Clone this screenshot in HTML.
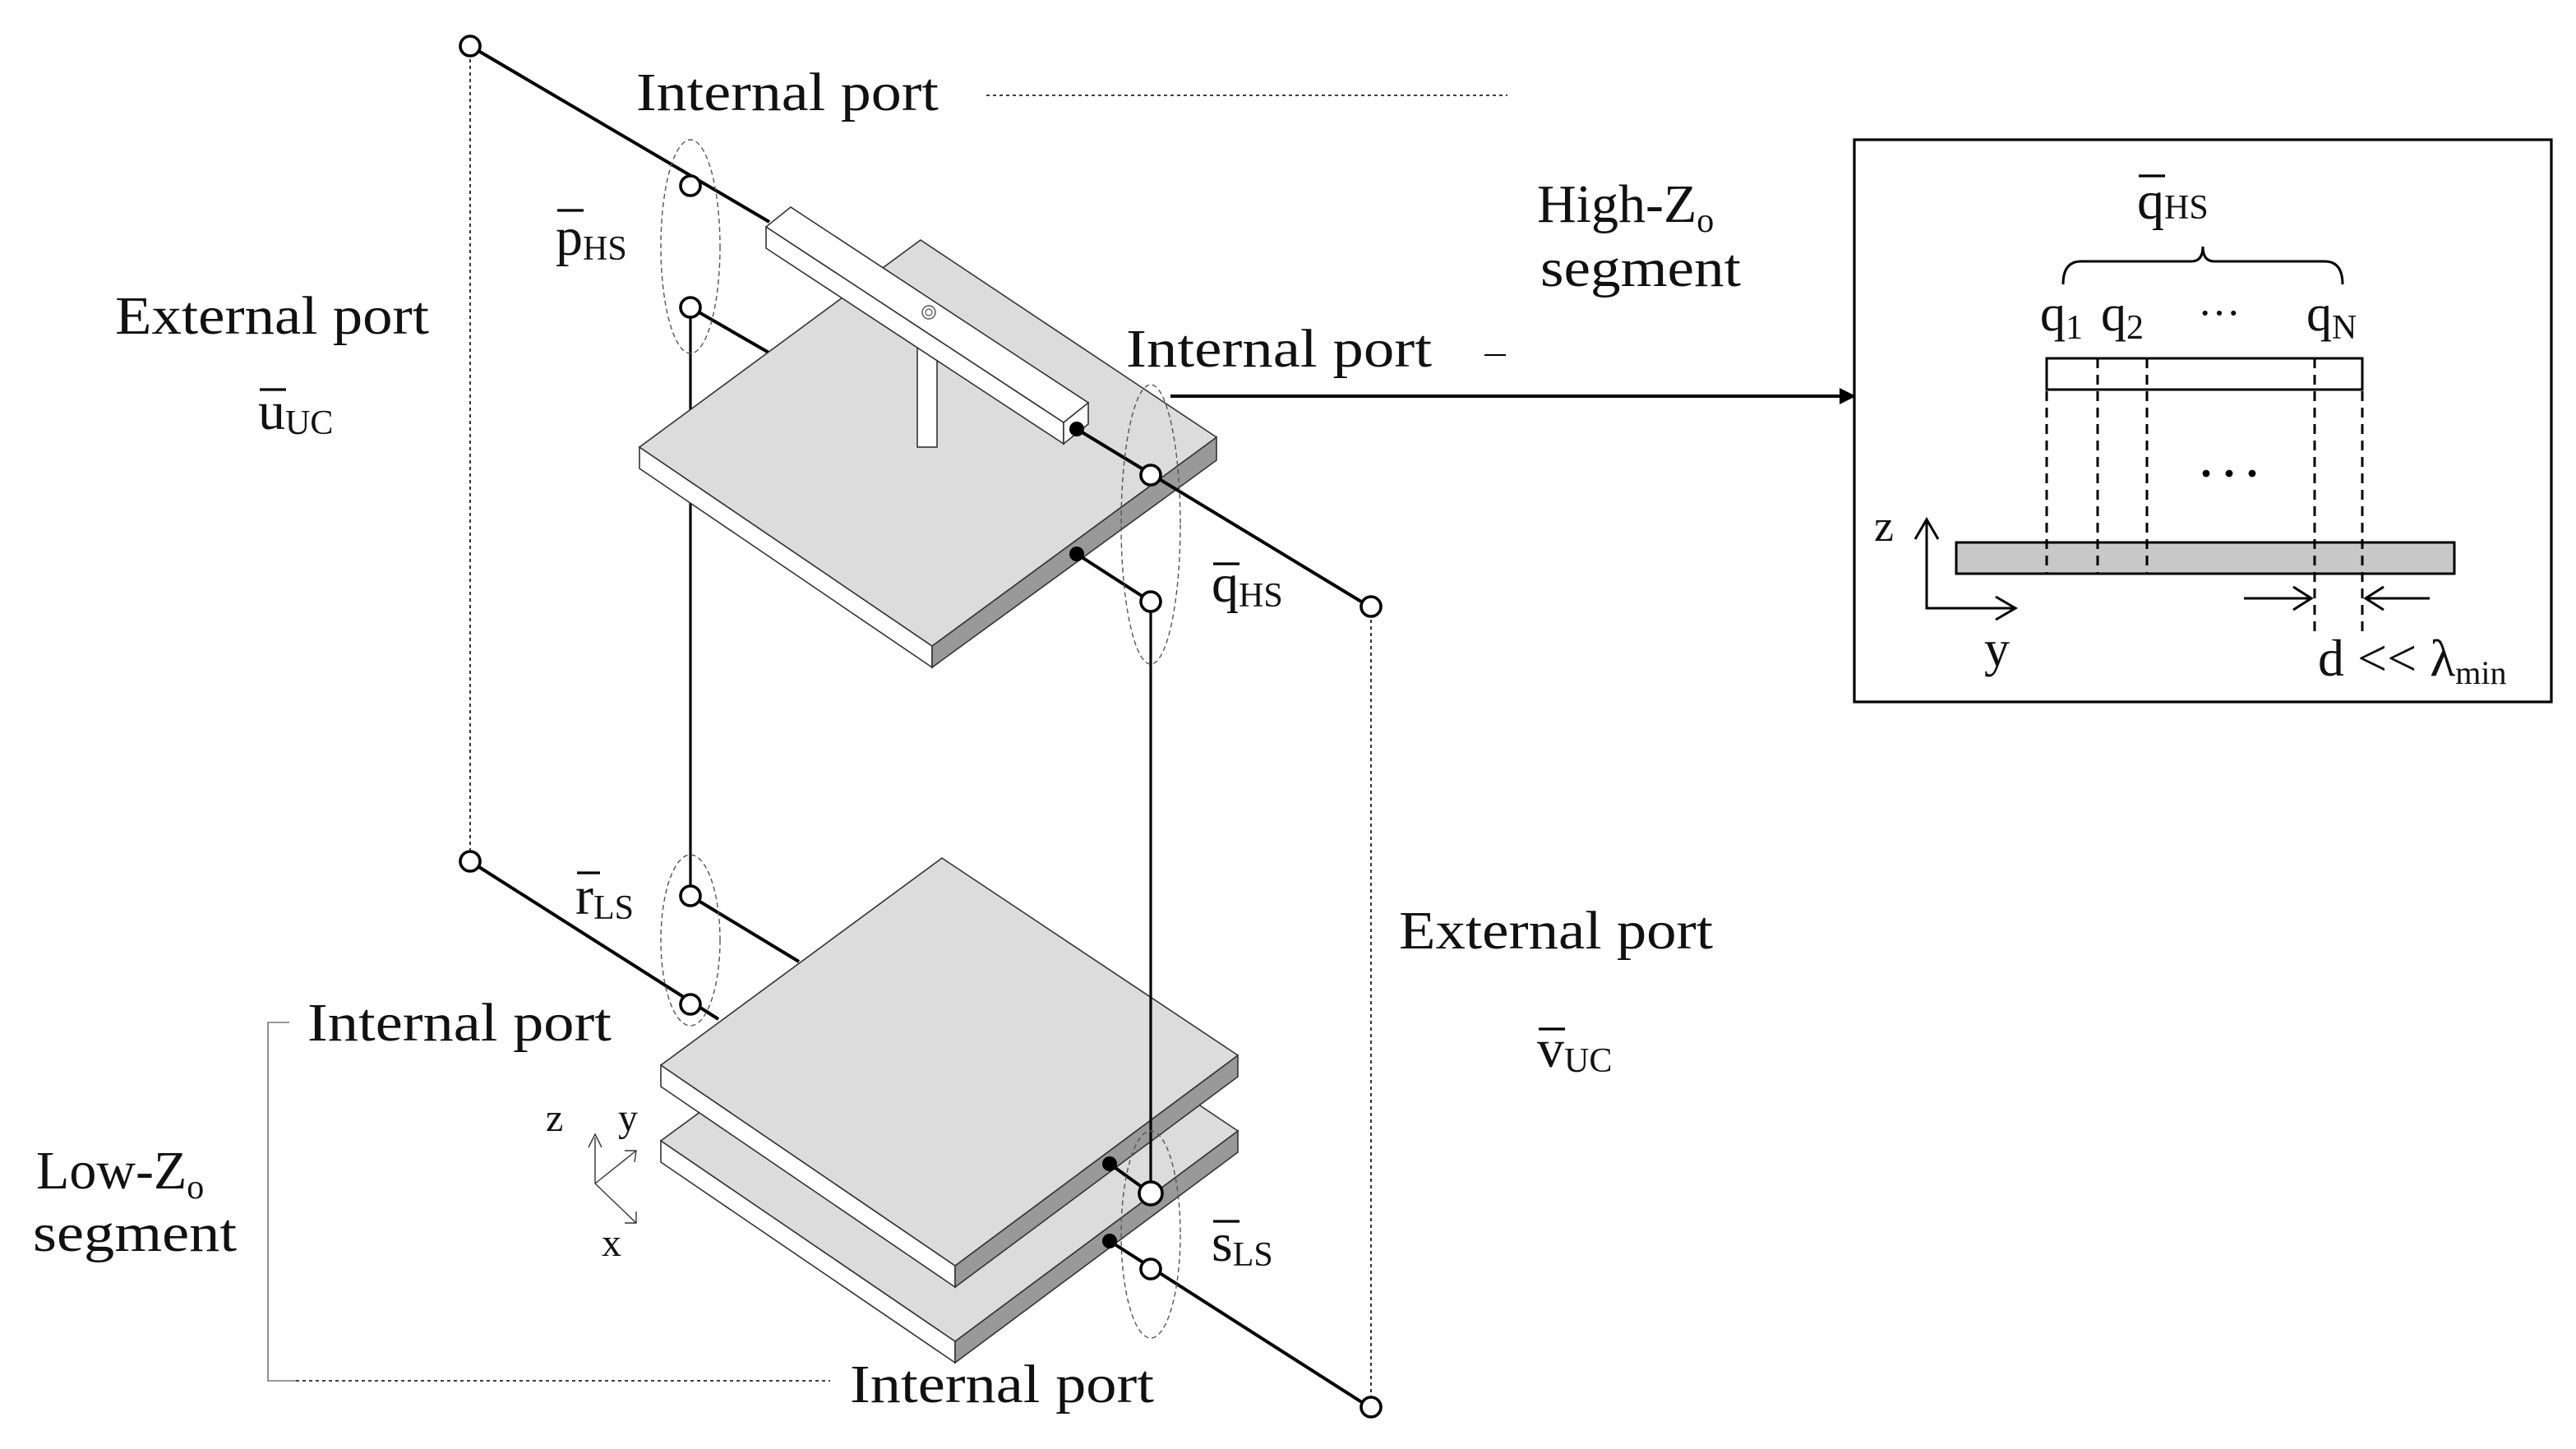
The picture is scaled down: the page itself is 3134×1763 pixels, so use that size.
<!DOCTYPE html>
<html><head><meta charset="utf-8"><style>
html,body{margin:0;padding:0;background:#fff;}
svg{display:block}
text{font-family:"Liberation Serif",serif;fill:#111;}
</style></head><body>
<svg width="3134" height="1763" viewBox="0 0 1567 881.5" xmlns="http://www.w3.org/2000/svg">
<defs>
<marker id="ah" markerWidth="10" markerHeight="10" refX="9" refY="5" orient="auto" markerUnits="userSpaceOnUse">
<path d="M0,0 L10,5 L0,10 z" fill="#000"/></marker>
</defs>
<g stroke="#000" fill="none">
<line x1="286" y1="28" x2="286" y2="524" stroke-width="0.8" stroke-dasharray="2,2"/>
<line x1="834" y1="369" x2="834" y2="856" stroke-width="0.8" stroke-dasharray="2,2"/>
<line x1="600" y1="58" x2="917" y2="58" stroke-width="0.8" stroke-dasharray="2,2"/>
<line x1="903" y1="216" x2="916" y2="216" stroke-width="1"/>
<polyline points="176,622 163,622 163,840 180,840" stroke="#777" stroke-width="0.8"/>
<line x1="180" y1="840" x2="505" y2="840" stroke-width="0.8" stroke-dasharray="2,2"/>
<line x1="420" y1="187" x2="420" y2="545" stroke-width="1.6"/>
<line x1="286" y1="28" x2="468" y2="135" stroke-width="2"/>
<line x1="420" y1="187" x2="472" y2="217" stroke-width="2"/>
<line x1="286" y1="524" x2="437" y2="620" stroke-width="2"/>
<line x1="420" y1="545" x2="486" y2="585" stroke-width="2"/>
</g>
<polygon points="389,272 567,393 567,406 389,285" fill="#fff" stroke="#333" stroke-width="0.8"/>
<polygon points="567,393 740,266 740,280 567,406" fill="#999" stroke="#333" stroke-width="0.8"/>
<polygon points="560,146 740,266 567,393 389,272" fill="#dcdcdc" stroke="#333" stroke-width="0.8"/>
<rect x="558" y="205" width="12" height="67" fill="#fff" stroke="#333" stroke-width="0.8"/>
<polygon points="466,138 647,257 647,270 466,151" fill="#fff" stroke="#333" stroke-width="0.8"/>
<polygon points="647,257 662,245 662,258 647,270" fill="#fff" stroke="#333" stroke-width="0.8"/>
<polygon points="481,126 662,245 647,257 466,138" fill="#fff" stroke="#333" stroke-width="0.8"/>
<circle cx="565" cy="190" r="4" fill="none" stroke="#555" stroke-width="0.7"/>
<circle cx="565" cy="190" r="2" fill="none" stroke="#555" stroke-width="0.6"/>
<polygon points="402,694 581,816 581,829 402,707" fill="#fff" stroke="#333" stroke-width="0.8"/>
<polygon points="581,816 753,688 753,701 581,829" fill="#999" stroke="#333" stroke-width="0.8"/>
<polygon points="574,568 753,688 581,816 402,694" fill="#dcdcdc" stroke="#333" stroke-width="0.8"/>
<polygon points="402,648 581,770 581,783 402,661" fill="#fff" stroke="#333" stroke-width="0.8"/>
<polygon points="581,770 753,642 753,655 581,783" fill="#999" stroke="#333" stroke-width="0.8"/>
<polygon points="573,522 753,642 581,770 402,648" fill="#dcdcdc" stroke="#333" stroke-width="0.8"/>
<g stroke="#000" stroke-width="2" fill="none">
<line x1="655" y1="261" x2="833" y2="369"/>
<line x1="655" y1="337" x2="700" y2="366"/>
<line x1="675" y1="708" x2="700" y2="726"/>
<line x1="675" y1="755" x2="833" y2="856"/>
<line x1="712" y1="241" x2="1128" y2="241" marker-end="url(#ah)"/>
</g>
<line x1="700" y1="366" x2="700" y2="726" stroke="#000" stroke-width="1.6"/>
<g fill="#000"><circle cx="655" cy="261" r="4.5"/><circle cx="655" cy="337" r="4.5"/><circle cx="675" cy="708" r="4.5"/><circle cx="675" cy="755" r="4.5"/></g>
<g fill="none" stroke="#555" stroke-width="0.7" stroke-dasharray="3,2">
<ellipse cx="420" cy="150" rx="18" ry="65"/>
<ellipse cx="700" cy="319" rx="18" ry="85"/>
<ellipse cx="420" cy="572" rx="18" ry="52"/>
<ellipse cx="700" cy="751" rx="18" ry="63"/>
</g>
<g fill="#fff" stroke="#000" stroke-width="1.8">
<circle cx="286" cy="28" r="6"/><circle cx="420" cy="113" r="6"/><circle cx="420" cy="187" r="6"/>
<circle cx="700" cy="289" r="6"/><circle cx="700" cy="366" r="6"/><circle cx="834" cy="369" r="6"/>
<circle cx="286" cy="524" r="6"/><circle cx="420" cy="545" r="6"/><circle cx="420" cy="611" r="6"/>
<circle cx="700" cy="726" r="7"/><circle cx="700" cy="772" r="6"/><circle cx="834" cy="856" r="6"/>
</g>
<g stroke="#333" stroke-width="0.7" fill="none">
<polyline points="362,720 362,692"/><polyline points="358,698 362,690 366,698"/>
<line x1="362" y1="720" x2="387" y2="700"/><polyline points="380,700 387,700 386,707"/>
<line x1="362" y1="720" x2="387" y2="744"/><polyline points="387,737 387,744 380,744"/>
</g>
<text x="332" y="688" font-size="24">z</text>
<text x="376" y="688" font-size="24">y</text>
<text x="366" y="764" font-size="24">x</text>
<g font-size="33">
<text x="387" y="67" textLength="184" lengthAdjust="spacingAndGlyphs">Internal port</text>
<text x="70" y="203" textLength="191" lengthAdjust="spacingAndGlyphs">External port</text>
<text x="685" y="223" textLength="186" lengthAdjust="spacingAndGlyphs">Internal port</text>
<text x="851" y="577" textLength="191" lengthAdjust="spacingAndGlyphs">External port</text>
<text x="187" y="633" textLength="185" lengthAdjust="spacingAndGlyphs">Internal port</text>
<text x="517" y="853" textLength="185" lengthAdjust="spacingAndGlyphs">Internal port</text>
<text x="935" y="135">High-Z<tspan font-size="21" dy="6">o</tspan></text>
<text x="937" y="174" textLength="122" lengthAdjust="spacingAndGlyphs">segment</text>
<text x="22" y="723">Low-Z<tspan font-size="21" dy="6">o</tspan></text>
<text x="20" y="761" textLength="124" lengthAdjust="spacingAndGlyphs">segment</text>
<text x="157" y="261">u<tspan font-size="21" dy="3">UC</tspan></text>
<text x="935" y="649">v<tspan font-size="21" dy="3">UC</tspan></text>
<text x="338" y="155">p<tspan font-size="21" dy="3">HS</tspan></text>
<text x="737" y="366">q<tspan font-size="21" dy="3">HS</tspan></text>
<text x="350" y="556">r<tspan font-size="21" dy="3">LS</tspan></text>
<text x="737" y="767">s<tspan font-size="21" dy="3">LS</tspan></text>
</g>
<g stroke="#000" stroke-width="1.6">
<line x1="158" y1="237" x2="174" y2="237"/><line x1="936" y1="626" x2="952" y2="626"/>
<line x1="339" y1="128" x2="355" y2="128"/><line x1="738" y1="343" x2="754" y2="343"/>
<line x1="351" y1="531" x2="365" y2="531"/><line x1="738" y1="743" x2="754" y2="743"/>
</g>
<rect x="1128" y="85" width="424" height="342" fill="#fff" stroke="#000" stroke-width="1.6"/>
<text x="1300" y="133" font-size="33">q<tspan font-size="21" dy="0">HS</tspan></text>
<line x1="1301" y1="107" x2="1317" y2="107" stroke="#000" stroke-width="1.6"/>
<path d="M1255,173 Q1255,159 1266,159 L1333,159 Q1340,159 1340,150 Q1340,159 1347,159 L1414,159 Q1425,159 1425,173" fill="none" stroke="#000" stroke-width="1.5"/>
<text x="1241" y="201" font-size="31">q<tspan font-size="21" dy="5">1</tspan></text>
<text x="1278" y="201" font-size="31">q<tspan font-size="21" dy="5">2</tspan></text>
<text x="1337" y="199" font-size="26">···</text>
<text x="1403" y="201" font-size="31">q<tspan font-size="21" dy="5">N</tspan></text>
<rect x="1245" y="218" width="192" height="19" fill="#fff" stroke="#000" stroke-width="1.5"/>
<rect x="1190" y="330" width="303" height="19" fill="#c8c8c8" stroke="#000" stroke-width="1.5"/>
<g stroke="#000" stroke-width="1.5" stroke-dasharray="6,4">
<line x1="1245" y1="218" x2="1245" y2="349"/><line x1="1276" y1="218" x2="1276" y2="349"/>
<line x1="1306" y1="218" x2="1306" y2="349"/><line x1="1408" y1="218" x2="1408" y2="385"/>
<line x1="1437" y1="218" x2="1437" y2="385"/>
</g>
<g fill="#000"><circle cx="1342" cy="288" r="2.2"/><circle cx="1356" cy="288" r="2.2"/><circle cx="1370" cy="288" r="2.2"/></g>
<g stroke="#000" stroke-width="1.5" fill="none">
<polyline points="1172,317 1172,370 1225,370"/>
<polyline points="1165,328 1172,316 1179,328"/>
<polyline points="1214,363 1226,370 1214,377"/>
<line x1="1365" y1="364" x2="1406" y2="364"/><polyline points="1395,357 1406,364 1395,371"/>
<line x1="1478" y1="364" x2="1439" y2="364"/><polyline points="1450,357 1439,364 1450,371"/>
</g>
<text x="1140" y="329" font-size="27">z</text>
<text x="1207" y="405" font-size="31">y</text>
<text x="1410" y="411" font-size="32">d &lt;&lt; λ<tspan font-size="20" dy="5">min</tspan></text>
</svg>
</body></html>
